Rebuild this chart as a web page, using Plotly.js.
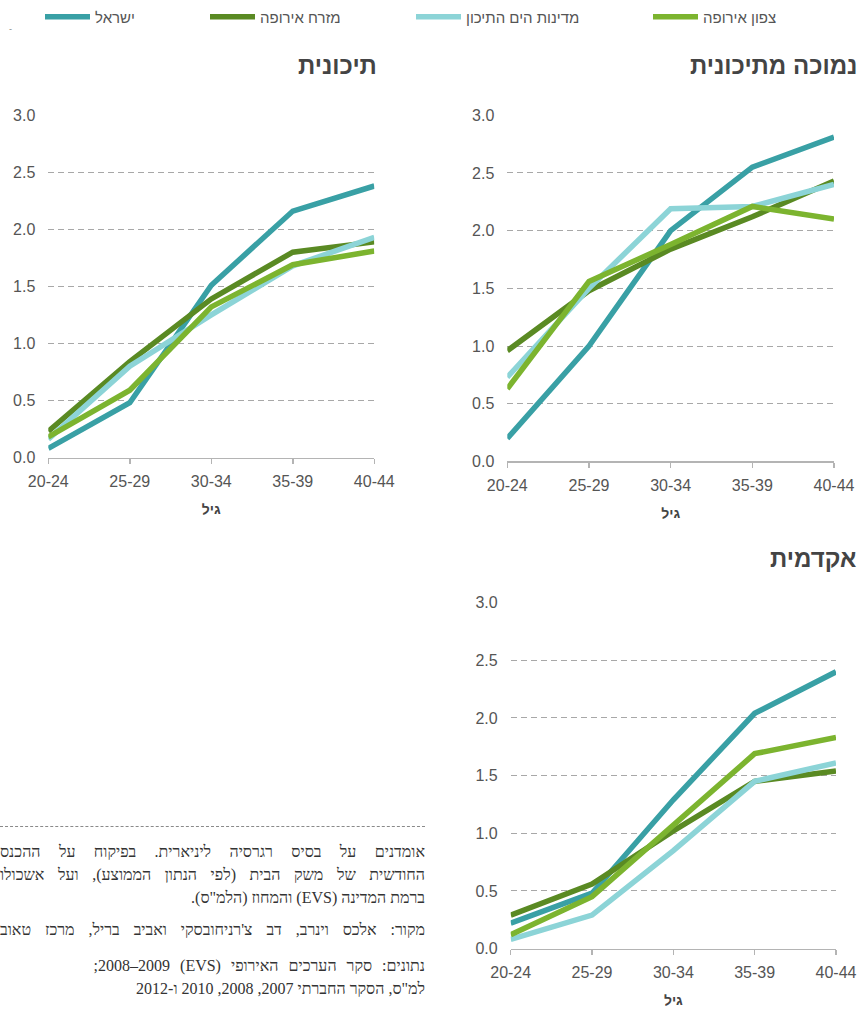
<!DOCTYPE html>
<html lang="he">
<head>
<meta charset="utf-8">
<script src="https://cdn.plot.ly/plotly-3.0.1.min.js"></script>
<style>
  html, body { margin: 0; padding: 0; background: #fff; }
  #wrap { position: relative; width: 865px; height: 1012px; overflow: hidden; }
  #chart { position: absolute; left: 0; top: 0; width: 865px; height: 1012px; }
  .note { position: absolute; left: 0; width: 425px; direction: rtl; text-align: right;
          font-family: "Liberation Serif", "DejaVu Serif", serif; font-size: 16px; color: #333;
          white-space: nowrap; line-height: 20px; }
  .just { text-align: justify; text-align-last: justify; white-space: normal; }
  #rule { position: absolute; left: 0; top: 826px; width: 425px; border-top: 1px dashed #8a8a8a; }
</style>
</head>
<body>
<div id="wrap">
  <div id="chart"></div>
  <div id="rule"></div>
  <div class="note just" style="top:842px">אומדנים על בסיס רגרסיה ליניארית. בפיקוח על ההכנס</div>
  <div class="note just" style="top:865px">החודשית של משק הבית (לפי הנתון הממוצע), ועל אשכולו</div>
  <div class="note" style="top:888px">ברמת המדינה (EVS) והמחוז (הלמ"ס).</div>
  <div class="note just" style="top:920px">מקור: אלכס וינרב, דב צ'רניחובסקי ואביב בריל, מרכז טאוב</div>
  <div class="note" style="top:956px; word-spacing:6px">נתונים: סקר הערכים האירופי (EVS) 2008–2009;</div>
  <div class="note" style="top:979px">למ"ס, הסקר החברתי 2007, 2008, 2010 ו-2012</div>
</div>
<script>
// ---- data ----
const ages = ['20-24', '25-29', '30-34', '35-39', '40-44'];
const seriesNames = ['ישראל', 'מזרח אירופה', 'מדינות הים התיכון', 'צפון אירופה'];
const panelTitles = ['תיכונית', 'נמוכה מתיכונית', 'אקדמית'];
const xTitle = 'גיל';

// תיכונית
const israelMid = [0.08, 0.48, 1.51, 2.16, 2.38];
const eastMid   = [0.23, 0.84, 1.39, 1.80, 1.89];
const medMid    = [0.16, 0.80, 1.25, 1.68, 1.93];
const northMid  = [0.18, 0.59, 1.32, 1.69, 1.81];

// נמוכה מתיכונית
const israelLow = [0.20, 1.00, 2.00, 2.55, 2.81];
const eastLow   = [0.96, 1.48, 1.84, 2.12, 2.43];
const medLow    = [0.73, 1.50, 2.19, 2.21, 2.40];
const northLow  = [0.63, 1.56, 1.88, 2.21, 2.10];

// אקדמית
const israelAcad = [0.22, 0.48, 1.29, 2.04, 2.40];
const eastAcad   = [0.29, 0.56, 1.02, 1.45, 1.54];
const medAcad    = [0.08, 0.29, 0.85, 1.45, 1.61];
const northAcad  = [0.12, 0.45, 1.07, 1.69, 1.83];

// ---- styling ----
const colors = ['#39a0a5', '#5a8a23', '#8cd4d7', '#7cb42f'];
const W = 865, H = 1012;
const px = v => v / W;
const py = v => 1 - v / H;

const panels = [
  { series: [israelMid, eastMid, medMid, northMid], xa: 'x', ya: 'y' },
  { series: [israelLow, eastLow, medLow, northLow], xa: 'x2', ya: 'y2' },
  { series: [israelAcad, eastAcad, medAcad, northAcad], xa: 'x3', ya: 'y3' }
];

const legendIds = ['legend', 'legend2', 'legend3', 'legend4'];
const traces = [];
panels.forEach((p, pi) => {
  p.series.forEach((vals, si) => {
    traces.push({
      type: 'scatter', mode: 'lines',
      x: ages, y: vals, name: seriesNames[si],
      xaxis: p.xa, yaxis: p.ya,
      line: { color: colors[si], width: 5.5 },
      showlegend: pi === 0,
      legend: legendIds[si],
      hoverinfo: 'skip'
    });
  });
});

const tickFont = { family: '"Liberation Sans", Arial, sans-serif', size: 16, color: '#555' };
function xAxis(domain, anchor) {
  return {
    domain: domain, anchor: anchor, type: 'category', range: [0, 4],
    showgrid: false, zeroline: false, showline: true, linecolor: '#b4b4b4', linewidth: 1.5,
    ticks: 'outside', ticklen: 5, tickcolor: '#b4b4b4', tickwidth: 1.5,
    tickfont: tickFont, ticklabelstandoff: 4,
    title: { text: '<b>' + xTitle + '</b>', font: { family: '"Liberation Sans", Arial, sans-serif', size: 14, color: '#444' }, standoff: 15 },
    fixedrange: true
  };
}
function yAxis(domain, anchor) {
  return {
    domain: domain, anchor: anchor, range: [0, 3], dtick: 0.5, tickformat: '.1f',
    showgrid: true, gridcolor: '#a8a8a8', gridwidth: 1, griddash: '6px,4px',
    zeroline: false, showline: false, ticks: '', tickfont: tickFont, ticklabelstandoff: 12,
    fixedrange: true
  };
}

const legendFont = { family: '"Liberation Sans", Arial, sans-serif', size: 15, color: '#555' };
const legendRight = [136, 342, 581, 778];
function legendAt(i) {
  return {
    orientation: 'h', x: px(legendRight[i] + 4), xanchor: 'right', y: py(13), yanchor: 'middle',
    itemwidth: 45,
    font: legendFont, bgcolor: 'rgba(0,0,0,0)', borderwidth: 0, itemclick: false, itemdoubleclick: false
  };
}

const titleFont = { family: '"Liberation Sans", Arial, sans-serif', size: 24, color: '#444' };
const layout = {
  width: W, height: H,
  margin: { l: 0, r: 0, t: 0, b: 0 },
  paper_bgcolor: '#fff', plot_bgcolor: '#fff',
  showlegend: true,
  legend: legendAt(0), legend2: legendAt(1), legend3: legendAt(2), legend4: legendAt(3),
  xaxis:  xAxis([px(48.3), px(374.3)], 'y'),
  yaxis:  yAxis([py(455.3), py(111.7)], 'x'),
  xaxis2: xAxis([px(507.3), px(834)], 'y2'),
  yaxis2: yAxis([py(459.3), py(111.7)], 'x2'),
  xaxis3: xAxis([px(510.7), px(836)], 'y3'),
  yaxis3: yAxis([py(948.3), py(601)], 'x3'),
  annotations: [
    { text: '<b>' + panelTitles[0] + '</b>', xref: 'paper', yref: 'paper', x: px(379), y: py(62), xanchor: 'right', yanchor: 'middle', showarrow: false, font: titleFont },
    { text: '<b>' + panelTitles[1] + '</b>', xref: 'paper', yref: 'paper', x: px(859), y: py(62), xanchor: 'right', yanchor: 'middle', showarrow: false, font: titleFont },
    { text: '<b>' + panelTitles[2] + '</b>', xref: 'paper', yref: 'paper', x: px(858), y: py(557), xanchor: 'right', yanchor: 'middle', showarrow: false, font: titleFont },
    { text: '-', xref: 'paper', yref: 'paper', x: px(10), y: py(25), xanchor: 'center', yanchor: 'middle', showarrow: false, font: { family: '"Liberation Sans", Arial, sans-serif', size: 9, color: '#888' } }
  ]
};

Plotly.newPlot('chart', traces, layout, { staticPlot: true, displayModeBar: false });
</script>
</body>
</html>
